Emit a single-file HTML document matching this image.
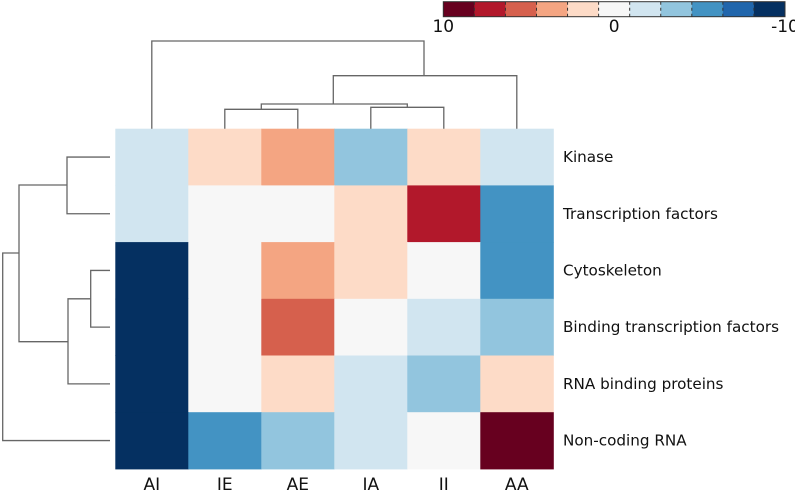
<!DOCTYPE html>
<html><head><meta charset="utf-8"><style>
body{margin:0;background:#fff;font-family:"DejaVu Sans","Liberation Sans",sans-serif}
svg{display:block}
</style></head><body>
<svg width="795" height="491" id="chart"></svg>
<script>
const columns=["AI","IE","AE","IA","II","AA"];
const rows=["Kinase","Transcription factors","Cytoskeleton","Binding transcription factors","RNA binding proteins","Non-coding RNA"];
const values=[
[-2,2,4,-4,2,-2],
[-2,0,0,2,8,-6],
[-10,0,4,2,0,-6],
[-10,0,6,0,-2,-4],
[-10,0,2,-2,-4,2],
[-10,-6,-4,-2,0,10]];
const palette=["#67001f","#b2182b","#d6604d","#f4a582","#fddbc7","#f7f7f7","#d1e5f0","#92c5de","#4393c3","#2166ac","#053061"];
const cbTicks=[10,0,-10];
const NS="http://www.w3.org/2000/svg";
const svg=document.getElementById('chart');
function mk(t,a,p){const e=document.createElementNS(NS,t);for(const k in a)e.setAttribute(k,a[k]);(p||svg).appendChild(e);return e;}
const x0=115.3,y0=128.7,cw=73,rh=56.7;
const xs=i=>x0+i*cw, ys=j=>y0+j*rh;
function color(v){let i=Math.round((10-v)/2);return palette[Math.max(0,Math.min(10,i))];}
const g=mk('g',{});


values.forEach((r,j)=>r.forEach((v,i)=>{
 const c=mk('rect',{x:xs(i),y:ys(j),width:cw+0.5,height:rh+0.5,fill:color(v)},g);
 
 
}));
columns.forEach((c,i)=>{
 const t=mk('text',{x:xs(i)+cw/2,y:490,'text-anchor':'middle','font-size':17,fill:'#111'});
 t.textContent=c;
 
 
});
rows.forEach((r,j)=>{
 const t=mk('text',{x:563,y:ys(j)+rh/2+5,'font-size':15.2,fill:'#111'});
 t.textContent=r;
 
 
});
const st={stroke:'#666','stroke-width':1.3,fill:'none'};
function path(d,name){const p=mk('path',Object.assign({d:d},st));}
const cx=i=>xs(i)+cw/2, cy=j=>ys(j)+rh/2;
path(`M${cx(1)} ${y0} V109.3 H${cx(2)} V${y0}`,'col-dendro-ie-ae');
path(`M${cx(3)} ${y0} V107.3 H${cx(4)} V${y0}`,'col-dendro-ia-ii');
path(`M${(cx(1)+cx(2))/2} 109.3 V104 H${(cx(3)+cx(4))/2} V107.3`,'col-dendro-mid');
path(`M333.3 104 V75.7 H${cx(5)} V${y0}`,'col-dendro-aa');
path(`M${cx(0)} ${y0} V41 H424 V75.7`,'col-dendro-root');
const lx=110;
path(`M${lx} ${cy(0)} H67 V${cy(1)} H${lx}`,'row-dendro-kinase-tf');
path(`M${lx} ${cy(2)} H90.7 V${cy(3)} H${lx}`,'row-dendro-cyto-btf');
path(`M90.7 ${(cy(2)+cy(3))/2} H68 V${cy(4)} H${lx}`,'row-dendro-rna');
path(`M67 185 H19 V341.7 H68`,'row-dendro-mid');
path(`M19 253 H2.7 V${cy(5)} H${lx}`,'row-dendro-root');
const cbx=443.3,cbw=341.7,cby=1.7,cbh=15,sw=cbw/11;
const cb=mk('g',{});


palette.forEach((c,i)=>{mk('rect',{x:cbx+i*sw,y:cby,width:sw+0.3,height:cbh,fill:c},cb);});
for(let i=1;i<11;i++)mk('line',{x1:cbx+i*sw,x2:cbx+i*sw,y1:cby,y2:cby+cbh,stroke:'#333','stroke-width':1,'stroke-dasharray':'3,3'},cb);
mk('rect',{x:cbx,y:cby,width:cbw,height:cbh,fill:'none',stroke:'#333','stroke-width':1},cb);
cbTicks.forEach(v=>{
 const x=cbx+(10-v)/20*cbw;
 const t=mk('text',{x:x,y:32,'text-anchor':'middle','font-size':17,fill:'#111'},cb);
 t.textContent=v;
 
 
});
</script>
</body></html>
